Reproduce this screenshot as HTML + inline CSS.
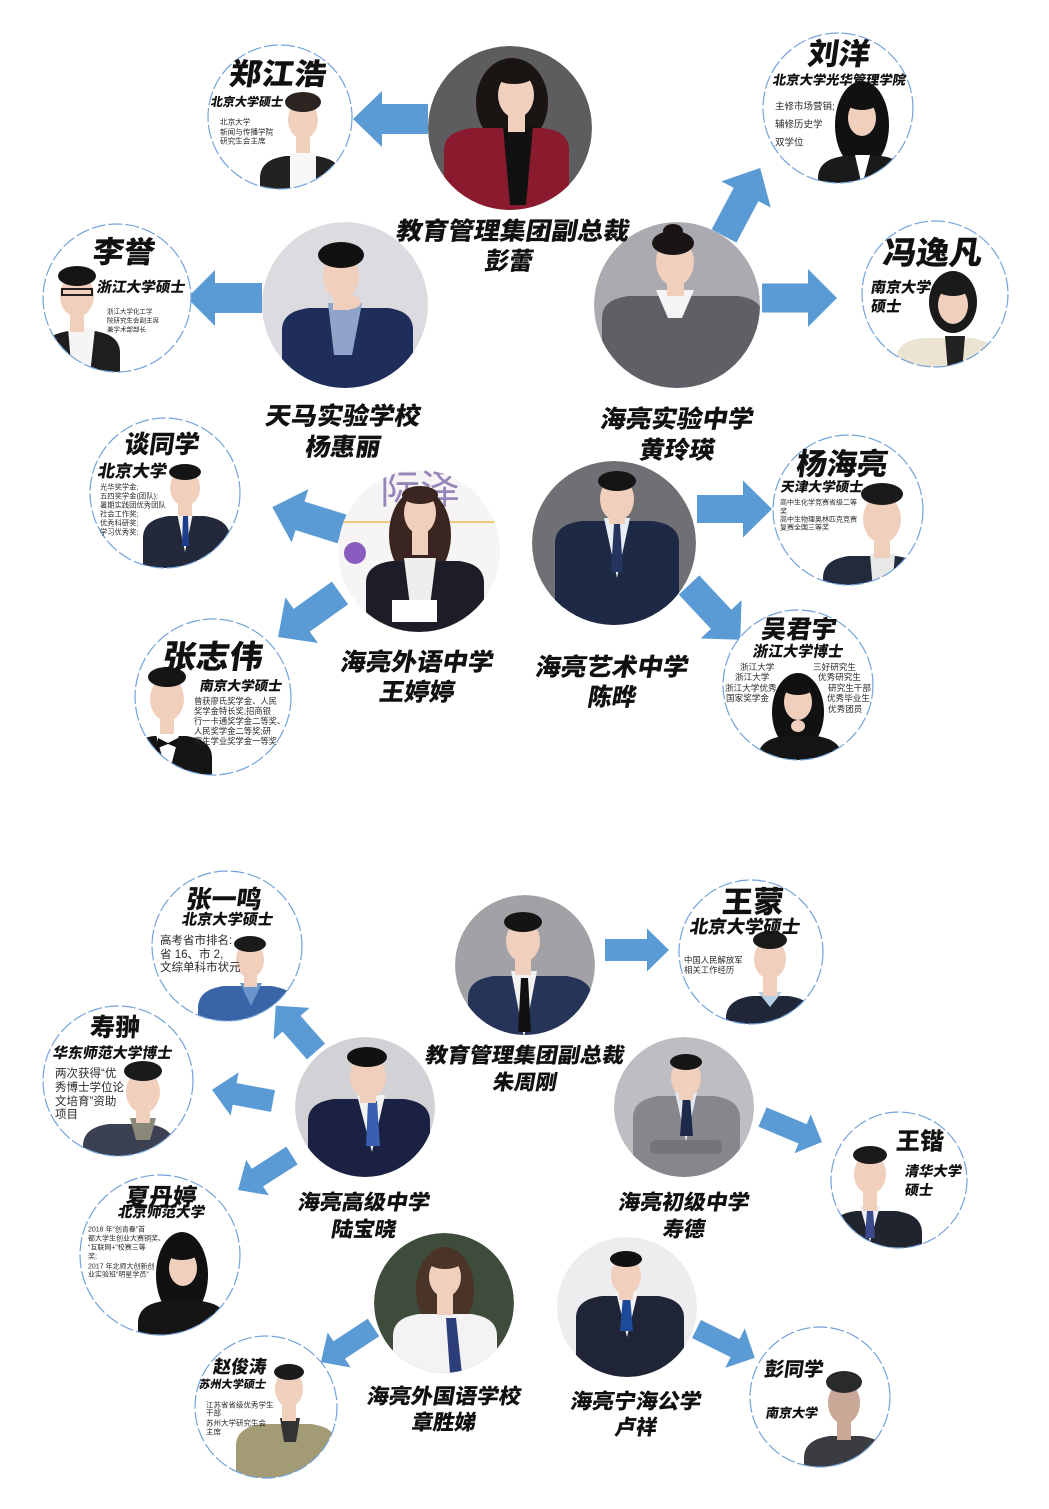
<!DOCTYPE html>
<html><head><meta charset="utf-8"><style>
html,body{margin:0;padding:0;background:#fff;}
svg{display:block;}
.n{font-family:"Liberation Sans","Noto Sans CJK SC",sans-serif;font-weight:900;fill:#111;}
.s{font-family:"Liberation Sans","Noto Sans CJK SC",sans-serif;font-weight:400;fill:#2a2a2a;}
.sk{fill:#f0cfbd;}
.bd{fill:none;stroke:#74a3da;stroke-width:1.2;stroke-dasharray:14 3;}
</style></head><body>
<svg width="1049" height="1509" viewBox="0 0 1049 1509" xmlns="http://www.w3.org/2000/svg">
<defs>
<clipPath id="cA"><circle cx="510" cy="128" r="82"/></clipPath>
<clipPath id="cB"><circle cx="345" cy="305" r="83"/></clipPath>
<clipPath id="cC"><circle cx="677" cy="305" r="83"/></clipPath>
<clipPath id="cD"><circle cx="419" cy="551" r="81"/></clipPath>
<clipPath id="cE"><circle cx="614" cy="543" r="82"/></clipPath>
<clipPath id="cF"><circle cx="525" cy="965" r="70"/></clipPath>
<clipPath id="cG"><circle cx="365" cy="1107" r="70"/></clipPath>
<clipPath id="cH"><circle cx="684" cy="1107" r="70"/></clipPath>
<clipPath id="cI"><circle cx="444" cy="1303" r="70"/></clipPath>
<clipPath id="cJ"><circle cx="627" cy="1307" r="70"/></clipPath>
<clipPath id="s1"><circle cx="280" cy="117" r="72"/></clipPath>
<clipPath id="s2"><circle cx="838" cy="108" r="75"/></clipPath>
<clipPath id="s3"><circle cx="935" cy="294" r="73"/></clipPath>
<clipPath id="s4"><circle cx="117" cy="298" r="74"/></clipPath>
<clipPath id="s5"><circle cx="165" cy="493" r="75"/></clipPath>
<clipPath id="s6"><circle cx="213" cy="697" r="78"/></clipPath>
<clipPath id="s7"><circle cx="848" cy="510" r="75"/></clipPath>
<clipPath id="s8"><circle cx="798" cy="685" r="75"/></clipPath>
<clipPath id="s9"><circle cx="227" cy="946" r="75"/></clipPath>
<clipPath id="s10"><circle cx="118" cy="1081" r="75"/></clipPath>
<clipPath id="s11"><circle cx="160" cy="1255" r="80"/></clipPath>
<clipPath id="s12"><circle cx="751" cy="952" r="72"/></clipPath>
<clipPath id="s13"><circle cx="899" cy="1180" r="68"/></clipPath>
<clipPath id="s14"><circle cx="266" cy="1407" r="71"/></clipPath>
<clipPath id="s15"><circle cx="820" cy="1397" r="70"/></clipPath>
</defs>

<!-- ARROWS -->
<g fill="#5b9bd5">
<polygon transform="translate(428,119) rotate(180)" points="0,-15 46,-15 46,-28 75,0 46,28 46,15 0,15"/>
<polygon transform="translate(262,298) rotate(180)" points="0,-15 47,-15 47,-28 75,0 47,28 47,15 0,15"/>
<polygon transform="translate(762,298)" points="0,-14.5 46,-14.5 46,-29 75,0 46,29 46,14.5 0,14.5"/>
<polygon transform="translate(724,236) rotate(-62)" points="0,-14 47,-14 47,-28 77,0 47,28 47,14 0,14"/>
<polygon transform="translate(342,529) rotate(197.4)" points="0,-15 44,-15 44,-28 73,0 44,28 44,15 0,15"/>
<polygon transform="translate(340,593) rotate(144.6)" points="0,-14 47,-14 47,-28 76,0 47,28 47,14 0,14"/>
<polygon transform="translate(697,509)" points="0,-14 46,-14 46,-28.5 75,0 46,28.5 46,14 0,14"/>
<polygon transform="translate(689,585) rotate(46.9)" points="0,-14 47,-14 47,-28 75,0 47,28 47,14 0,14"/>
<polygon transform="translate(605,950)" points="0,-11 42,-11 42,-21.5 64,0 42,21.5 42,11 0,11"/>
<polygon transform="translate(316,1051.5) rotate(228.7)" points="0,-12 37,-12 37,-24 61,0 37,24 37,12 0,12"/>
<polygon transform="translate(273,1101) rotate(190.4)" points="0,-11 39,-11 39,-22 62,0 39,22 39,11 0,11"/>
<polygon transform="translate(292,1155.5) rotate(147.4)" points="0,-10.5 41,-10.5 41,-21 64,0 41,21 41,10.5 0,10.5"/>
<polygon transform="translate(762.5,1117) rotate(22.8)" points="0,-10.5 43.5,-10.5 43.5,-21 64.5,0 43.5,21 43.5,10.5 0,10.5"/>
<polygon transform="translate(373.5,1327.5) rotate(146.7)" points="0,-10.5 41,-10.5 41,-21 63,0 41,21 41,10.5 0,10.5"/>
<polygon transform="translate(696.5,1329) rotate(26.4)" points="0,-10 43,-10 43,-22 65,0 43,22 43,10 0,10"/>
</g>

<!-- TEACHER PHOTOS -->
<g clip-path="url(#cA)">
<circle cx="510" cy="128" r="82" fill="#5d5d60"/>
<ellipse cx="512" cy="102" rx="36" ry="44" fill="#1a1512"/>
<path d="M444 215 L444 150 C444 136 456 130 472 128 L543 128 C559 130 569 136 569 150 L569 215 Z" fill="#8a1b2e"/>
<polygon points="503,126 533,126 526,205 510,205" fill="#111"/>
<rect x="508" y="108" width="17" height="24" class="sk"/>
<ellipse cx="516" cy="95" rx="18" ry="23" class="sk"/>
<ellipse cx="514" cy="75" rx="20" ry="9" fill="#1a1512"/>
</g>
<g clip-path="url(#cB)">
<circle cx="345" cy="305" r="83" fill="#dcdce0"/>
<path d="M282 392 L282 330 C282 316 293 310 309 308 L388 308 C403 310 413 316 413 330 L413 392 Z" fill="#1f2d5a"/>
<polygon points="328,303 362,303 352,355 334,355" fill="#8fa4c8"/>
<rect x="333" y="288" width="17" height="22" class="sk"/>
<ellipse cx="341" cy="276" rx="18" ry="24" class="sk"/>
<ellipse cx="341" cy="255" rx="23" ry="13" fill="#111"/>
<ellipse cx="350" cy="302" rx="11" ry="7" class="sk"/>
</g>
<g clip-path="url(#cC)">
<circle cx="677" cy="305" r="83" fill="#aaaab0"/>
<path d="M602 392 L602 318 C602 304 613 298 629 296 L738 296 C753 298 763 304 763 318 L763 392 Z" fill="#5f6065"/>
<polygon points="656,290 694,290 682,318 668,318" fill="#f4f4f4"/>
<rect x="667" y="276" width="17" height="20" class="sk"/>
<ellipse cx="675" cy="262" rx="19" ry="24" class="sk"/>
<ellipse cx="673" cy="243" rx="21" ry="12" fill="#1a1514"/>
<ellipse cx="673" cy="231" rx="10" ry="7" fill="#1a1514"/>
</g>
<g clip-path="url(#cD)">
<circle cx="419" cy="551" r="81" fill="#f6f4f4"/>
<text x="420" y="490" class="s" font-size="40" font-weight="700" text-anchor="middle" dominant-baseline="central" style="fill:#9486b8">际泽</text>
<rect x="340" y="521" width="160" height="2" fill="#f0c878"/>
<circle cx="355" cy="553" r="11" fill="#8a5cc0"/>
<ellipse cx="420" cy="535" rx="31" ry="46" fill="#3a2520"/>
<path d="M366 635 L366 583 C366 569 377 563 392 561 L459 561 C474 563 484 569 484 583 L484 635 Z" fill="#1d1d28"/>
<polygon points="404,558 436,558 428,622 412,622" fill="#eeeeee"/>
<rect x="412" y="530" width="16" height="25" class="sk"/>
<ellipse cx="420" cy="513" rx="16" ry="21" class="sk"/>
<ellipse cx="420" cy="495" rx="18" ry="9" fill="#3a2520"/>
<rect x="392" y="600" width="45" height="22" fill="#fff"/>
</g>
<g clip-path="url(#cE)">
<circle cx="614" cy="543" r="82" fill="#707074"/>
<path d="M555 628 L555 543 C555 529 566 523 582 521 L652 521 C668 523 679 529 679 543 L679 628 Z" fill="#1e2946"/>
<polygon points="604,518 630,518 617,578" fill="#e8eef5"/>
<polygon points="614,524 620,524 623,572 611,572" fill="#24345e"/>
<rect x="609" y="506" width="16" height="18" class="sk"/>
<ellipse cx="617" cy="499" rx="17" ry="22" class="sk"/>
<ellipse cx="617" cy="481" rx="19" ry="10" fill="#151515"/>
</g>
<g clip-path="url(#cF)">
<circle cx="525" cy="965" r="70" fill="#a2a2a6"/>
<path d="M468 1040 L468 998 C468 984 479 978 494 976 L566 976 C581 978 592 984 592 998 L592 1040 Z" fill="#263459"/>
<polygon points="511,971 537,971 524,1038" fill="#f2f2f2"/>
<polygon points="521,978 528,978 531,1032 518,1032" fill="#111"/>
<rect x="515" y="953" width="16" height="22" class="sk"/>
<ellipse cx="523" cy="941" rx="17" ry="21" class="sk"/>
<ellipse cx="523" cy="922" rx="19" ry="10" fill="#141414"/>
</g>
<g clip-path="url(#cG)">
<circle cx="365" cy="1107" r="70" fill="#d2d2d6"/>
<path d="M308 1180 L308 1121 C308 1107 319 1101 334 1099 L404 1099 C419 1101 430 1107 430 1121 L430 1180 Z" fill="#1b2142"/>
<polygon points="357,1095 385,1095 372,1152" fill="#f3f3f3"/>
<polygon points="368,1101 377,1101 380,1146 366,1146" fill="#3a5fb0"/>
<rect x="360" y="1083" width="16" height="20" class="sk"/>
<ellipse cx="368" cy="1077" rx="18" ry="22" class="sk"/>
<ellipse cx="367" cy="1057" rx="20" ry="10" fill="#111"/>
</g>
<g clip-path="url(#cH)">
<circle cx="684" cy="1107" r="70" fill="#bdbdc2"/>
<path d="M633 1180 L633 1118 C633 1104 644 1098 659 1096 L714 1096 C729 1098 740 1104 740 1118 L740 1180 Z" fill="#86868c"/>
<polygon points="675,1092 697,1092 686,1142" fill="#e4e8f0"/>
<polygon points="683,1096 690,1096 693,1136 680,1136" fill="#1e2a4a"/>
<rect x="679" y="1086" width="14" height="14" class="sk"/>
<ellipse cx="686" cy="1078" rx="15" ry="19" class="sk"/>
<ellipse cx="686" cy="1062" rx="16" ry="8" fill="#151515"/>
<rect x="650" y="1140" width="72" height="14" rx="6" fill="#74747a"/>
</g>
<g clip-path="url(#cI)">
<circle cx="444" cy="1303" r="70" fill="#3f4c3c"/>
<ellipse cx="445" cy="1290" rx="29" ry="43" fill="#4a3327"/>
<path d="M393 1380 L393 1336 C393 1322 404 1316 419 1314 L471 1314 C486 1316 497 1322 497 1336 L497 1380 Z" fill="#f3f3f3"/>
<polygon points="446,1318 456,1318 462,1374 450,1374" fill="#2c3e7a"/>
<rect x="437" y="1290" width="16" height="25" class="sk"/>
<ellipse cx="445" cy="1277" rx="16" ry="20" class="sk"/>
<ellipse cx="445" cy="1260" rx="18" ry="9" fill="#4a3327"/>
</g>
<g clip-path="url(#cJ)">
<circle cx="627" cy="1307" r="70" fill="#ededef"/>
<path d="M576 1380 L576 1318 C576 1304 587 1298 602 1296 L658 1296 C673 1298 684 1304 684 1318 L684 1380 Z" fill="#1f2537"/>
<polygon points="616,1292 638,1292 627,1337" fill="#f2f2f2"/>
<polygon points="623,1296 630,1296 633,1331 620,1331" fill="#1e4a9a"/>
<rect x="619" y="1286" width="14" height="14" class="sk"/>
<ellipse cx="626" cy="1276" rx="15" ry="19" class="sk"/>
<ellipse cx="626" cy="1259" rx="16" ry="8" fill="#111"/>
</g>

<!-- STUDENT CIRCLES -->
<g>
<circle cx="280" cy="117" r="72" fill="#fff"/>
<g clip-path="url(#s1)">
<path d="M260 195 L260 178 C260 164 271 158 286 156 L316 156 C331 158 342 164 342 178 L342 195 Z" fill="#222"/>
<polygon points="290,154 316,154 316,195 290,195" fill="#f7f7f7"/>
<rect x="296" y="133" width="14" height="20" class="sk"/>
<ellipse cx="303" cy="120" rx="15" ry="19" class="sk"/>
<ellipse cx="303" cy="102" rx="18" ry="10" fill="#2b2420"/>
</g>
<circle cx="280" cy="117" r="72" class="bd"/>

<circle cx="838" cy="108" r="75" fill="#fff"/>
<g clip-path="url(#s2)">
<ellipse cx="862" cy="125" rx="27" ry="44" fill="#111"/>
<path d="M818 190 L818 178 C818 164 829 158 844 156 L881 156 C896 158 907 164 907 178 L907 190 Z" fill="#1a1a1a"/>
<polygon points="855,155 870,155 862,186" fill="#fff"/>
<ellipse cx="862" cy="118" rx="14" ry="18" class="sk"/>
<ellipse cx="862" cy="102" rx="16" ry="8" fill="#111"/>
</g>
<circle cx="838" cy="108" r="75" class="bd"/>

<circle cx="935" cy="294" r="73" fill="#fff"/>
<g clip-path="url(#s3)">
<ellipse cx="953" cy="302" rx="24" ry="31" fill="#1a1a1a"/>
<path d="M896 372 L896 360 C896 346 907 340 922 338 L971 338 C986 340 997 346 997 360 L997 372 Z" fill="#ebe4d2"/>
<polygon points="945,336 965,336 962,372 948,372" fill="#222"/>
<ellipse cx="953" cy="305" rx="15" ry="19" class="sk"/>
<ellipse cx="953" cy="288" rx="17" ry="8" fill="#1a1a1a"/>
</g>
<circle cx="935" cy="294" r="73" class="bd"/>

<circle cx="117" cy="298" r="74" fill="#fff"/>
<g clip-path="url(#s4)">
<path d="M43 375 L43 353 C43 339 54 333 69 331 L94 331 C109 333 120 339 120 353 L120 375 Z" fill="#1e1e1e"/>
<polygon points="68,328 95,328 90,375 72,375" fill="#f5f5f5"/>
<rect x="70" y="310" width="14" height="22" class="sk"/>
<ellipse cx="77" cy="296" rx="17" ry="21" class="sk"/>
<ellipse cx="77" cy="276" rx="19" ry="10" fill="#151515"/>
<rect x="62" y="289" width="30" height="6" fill="none" stroke="#222" stroke-width="2"/>
</g>
<circle cx="117" cy="298" r="74" class="bd"/>

<circle cx="165" cy="493" r="75" fill="#fff"/>
<g clip-path="url(#s5)">
<path d="M143 570 L143 538 C143 524 154 518 169 516 L204 516 C219 518 230 524 230 538 L230 570 Z" fill="#23283a"/>
<polygon points="177,513 193,513 185,552" fill="#f2f2f2"/>
<polygon points="183,516 188,516 189,546 182,546" fill="#1d3e8a"/>
<rect x="178" y="500" width="14" height="16" class="sk"/>
<ellipse cx="185" cy="488" rx="15" ry="18" class="sk"/>
<ellipse cx="185" cy="472" rx="16" ry="8" fill="#151515"/>
</g>
<circle cx="165" cy="493" r="75" class="bd"/>

<circle cx="213" cy="697" r="78" fill="#fff"/>
<g clip-path="url(#s6)">
<path d="M128 778 L128 758 C128 744 139 738 154 736 L186 736 C201 738 212 744 212 758 L212 778 Z" fill="#151515"/>
<polygon points="155,731 180,731 168,778" fill="#fff"/>
<polygon points="158,738 168,743 178,738 178,748 168,744 158,748" fill="#111"/>
<rect x="160" y="712" width="14" height="22" class="sk"/>
<ellipse cx="167" cy="699" rx="17" ry="22" class="sk"/>
<ellipse cx="167" cy="677" rx="19" ry="10" fill="#151515"/>
</g>
<circle cx="213" cy="697" r="78" class="bd"/>

<circle cx="848" cy="510" r="75" fill="#fff"/>
<g clip-path="url(#s7)">
<path d="M823 590 L823 578 C823 564 834 558 849 556 L896 556 C911 558 922 564 922 578 L922 590 Z" fill="#232a3c"/>
<polygon points="870,554 895,554 892,590 873,590" fill="#e8e8e8"/>
<rect x="874" y="538" width="16" height="20" class="sk"/>
<ellipse cx="882" cy="519" rx="19" ry="24" class="sk"/>
<ellipse cx="882" cy="494" rx="21" ry="11" fill="#1a1a1a"/>
</g>
<circle cx="848" cy="510" r="75" class="bd"/>

<circle cx="798" cy="685" r="75" fill="#fff"/>
<g clip-path="url(#s8)">
<ellipse cx="798" cy="712" rx="26" ry="39" fill="#111"/>
<path d="M758 765 L758 758 C758 744 769 738 784 736 L816 736 C831 738 842 744 842 758 L842 765 Z" fill="#151515"/>
<ellipse cx="798" cy="702" rx="14" ry="18" class="sk"/>
<ellipse cx="798" cy="726" rx="7" ry="6" class="sk"/>
<ellipse cx="798" cy="687" rx="16" ry="8" fill="#111"/>
</g>
<circle cx="798" cy="685" r="75" class="bd"/>

<circle cx="227" cy="946" r="75" fill="#fff"/>
<g clip-path="url(#s9)">
<path d="M198 1025 L198 1008 C198 994 209 988 224 986 L271 986 C286 988 297 994 297 1008 L297 1025 Z" fill="#3965a8"/>
<polygon points="240,983 262,983 251,1006" fill="#6a95cc"/>
<rect x="244" y="972" width="13" height="15" class="sk"/>
<ellipse cx="250" cy="960" rx="14" ry="18" class="sk"/>
<ellipse cx="250" cy="944" rx="16" ry="8" fill="#1a1a1a"/>
</g>
<circle cx="227" cy="946" r="75" class="bd"/>

<circle cx="118" cy="1081" r="75" fill="#fff"/>
<g clip-path="url(#s10)">
<path d="M83 1160 L83 1146 C83 1132 94 1126 109 1124 L148 1124 C163 1126 174 1132 174 1146 L174 1160 Z" fill="#3b4152"/>
<polygon points="130,1118 156,1118 150,1140 136,1140" fill="#8a8878"/>
<rect x="136" y="1106" width="14" height="17" class="sk"/>
<ellipse cx="143" cy="1092" rx="17" ry="21" class="sk"/>
<ellipse cx="143" cy="1071" rx="19" ry="10" fill="#1a1a1a"/>
</g>
<circle cx="118" cy="1081" r="75" class="bd"/>

<circle cx="160" cy="1255" r="80" fill="#fff"/>
<g clip-path="url(#s11)">
<ellipse cx="182" cy="1275" rx="26" ry="43" fill="#111"/>
<path d="M138 1340 L138 1323 C138 1309 149 1303 164 1301 L201 1301 C216 1303 227 1309 227 1323 L227 1340 Z" fill="#151515"/>
<ellipse cx="183" cy="1268" rx="14" ry="18" class="sk"/>
<ellipse cx="182" cy="1252" rx="17" ry="8" fill="#111"/>
</g>
<circle cx="160" cy="1255" r="80" class="bd"/>

<circle cx="751" cy="952" r="72" fill="#fff"/>
<g clip-path="url(#s12)">
<path d="M726 1030 L726 1018 C726 1004 737 998 752 996 L788 996 C803 998 814 1004 814 1018 L814 1030 Z" fill="#1f2738"/>
<polygon points="758,992 782,992 770,1007" fill="#b8cfe8"/>
<rect x="763" y="976" width="14" height="20" class="sk"/>
<ellipse cx="770" cy="959" rx="16" ry="20" class="sk"/>
<ellipse cx="770" cy="940" rx="17" ry="9" fill="#1a1a1a"/>
</g>
<circle cx="751" cy="952" r="72" class="bd"/>

<circle cx="899" cy="1180" r="68" fill="#fff"/>
<g clip-path="url(#s13)">
<path d="M830 1252 L830 1233 C830 1219 841 1213 856 1211 L896 1211 C911 1213 922 1219 922 1233 L922 1252 Z" fill="#20242f"/>
<polygon points="860,1206 880,1206 870,1242" fill="#eeeef6"/>
<polygon points="867,1210 873,1210 875,1238 865,1238" fill="#3a4a8a"/>
<rect x="863" y="1191" width="14" height="20" class="sk"/>
<ellipse cx="870" cy="1174" rx="16" ry="20" class="sk"/>
<ellipse cx="870" cy="1155" rx="17" ry="9" fill="#1a1a1a"/>
</g>
<circle cx="899" cy="1180" r="68" class="bd"/>

<circle cx="266" cy="1407" r="71" fill="#fff"/>
<g clip-path="url(#s14)">
<path d="M236 1482 L236 1446 C236 1432 247 1426 262 1424 L311 1424 C326 1426 337 1432 337 1446 L337 1482 Z" fill="#a39b74"/>
<polygon points="280,1418 300,1418 296,1442 284,1442" fill="#333"/>
<rect x="282" y="1403" width="14" height="18" class="sk"/>
<ellipse cx="289" cy="1389" rx="14" ry="18" class="sk"/>
<ellipse cx="289" cy="1372" rx="15" ry="8" fill="#1a1a1a"/>
</g>
<circle cx="266" cy="1407" r="71" class="bd"/>

<circle cx="820" cy="1397" r="70" fill="#fff"/>
<g clip-path="url(#s15)">
<path d="M804 1470 L804 1458 C804 1444 815 1438 830 1436 L861 1436 C876 1438 887 1444 887 1458 L887 1470 Z" fill="#3b3c42"/>
<rect x="837" y="1418" width="14" height="22" fill="#c9a898"/>
<ellipse cx="844" cy="1403" rx="16" ry="21" fill="#c9a898"/>
<ellipse cx="844" cy="1382" rx="18" ry="11" fill="#2a2a2a"/>
</g>
<circle cx="820" cy="1397" r="70" class="bd"/>
</g>

<!-- TEACHER LABELS -->
<g class="n" text-anchor="middle" dominant-baseline="central">
<g transform="translate(513,232) skewX(-10)"><text font-size="24.5" textLength="233" lengthAdjust="spacingAndGlyphs">教育管理集团副总裁</text></g>
<g transform="translate(509,262) skewX(-10)"><text font-size="24.5" textLength="48" lengthAdjust="spacingAndGlyphs">彭蕾</text></g>
<g transform="translate(343,417) skewX(-10)"><text font-size="24.5" textLength="155" lengthAdjust="spacingAndGlyphs">天马实验学校</text></g>
<g transform="translate(343,448) skewX(-10)"><text font-size="24.5" textLength="75" lengthAdjust="spacingAndGlyphs">杨惠丽</text></g>
<g transform="translate(677,420) skewX(-10)"><text font-size="24.5" textLength="153" lengthAdjust="spacingAndGlyphs">海亮实验中学</text></g>
<g transform="translate(677,451) skewX(-10)"><text font-size="24.5" textLength="75" lengthAdjust="spacingAndGlyphs">黄玲瑛</text></g>
<g transform="translate(417,663) skewX(-10)"><text font-size="24.5" textLength="153" lengthAdjust="spacingAndGlyphs">海亮外语中学</text></g>
<g transform="translate(417,693) skewX(-10)"><text font-size="24.5" textLength="75" lengthAdjust="spacingAndGlyphs">王婷婷</text></g>
<g transform="translate(612,668) skewX(-10)"><text font-size="24.5" textLength="153" lengthAdjust="spacingAndGlyphs">海亮艺术中学</text></g>
<g transform="translate(612,698) skewX(-10)"><text font-size="24.5" textLength="48" lengthAdjust="spacingAndGlyphs">陈晔</text></g>
<g transform="translate(525,1056) skewX(-10)"><text font-size="21" textLength="199" lengthAdjust="spacingAndGlyphs">教育管理集团副总裁</text></g>
<g transform="translate(525,1083) skewX(-10)"><text font-size="21" textLength="64" lengthAdjust="spacingAndGlyphs">朱周刚</text></g>
<g transform="translate(364,1203) skewX(-10)"><text font-size="21" textLength="132" lengthAdjust="spacingAndGlyphs">海亮高级中学</text></g>
<g transform="translate(364,1230) skewX(-10)"><text font-size="21" textLength="65" lengthAdjust="spacingAndGlyphs">陆宝晓</text></g>
<g transform="translate(684,1203) skewX(-10)"><text font-size="21" textLength="131" lengthAdjust="spacingAndGlyphs">海亮初级中学</text></g>
<g transform="translate(684,1230) skewX(-10)"><text font-size="21" textLength="42" lengthAdjust="spacingAndGlyphs">寿德</text></g>
<g transform="translate(444,1397) skewX(-10)"><text font-size="21" textLength="154" lengthAdjust="spacingAndGlyphs">海亮外国语学校</text></g>
<g transform="translate(444,1423) skewX(-10)"><text font-size="21" textLength="64" lengthAdjust="spacingAndGlyphs">章胜娣</text></g>
<g transform="translate(636,1402) skewX(-10)"><text font-size="21" textLength="131" lengthAdjust="spacingAndGlyphs">海亮宁海公学</text></g>
<g transform="translate(636,1428) skewX(-10)"><text font-size="21" textLength="42" lengthAdjust="spacingAndGlyphs">卢祥</text></g>
</g>

<!-- STUDENT NAMES -->
<g class="n" text-anchor="middle" dominant-baseline="central">
<g transform="translate(278,75) skewX(-8)"><text font-size="30" textLength="97" lengthAdjust="spacingAndGlyphs">郑江浩</text></g>
<g transform="translate(839,55) skewX(-8)"><text font-size="30" textLength="62" lengthAdjust="spacingAndGlyphs">刘洋</text></g>
<g transform="translate(933,253) skewX(-8)"><text font-size="32" textLength="99" lengthAdjust="spacingAndGlyphs">冯逸凡</text></g>
<g transform="translate(124,253) skewX(-8)"><text font-size="30" textLength="62" lengthAdjust="spacingAndGlyphs">李誉</text></g>
<g transform="translate(162,445) skewX(-8)"><text font-size="25" textLength="75" lengthAdjust="spacingAndGlyphs">谈同学</text></g>
<g transform="translate(213,657) skewX(-8)"><text font-size="32" textLength="100" lengthAdjust="spacingAndGlyphs">张志伟</text></g>
<g transform="translate(842,465) skewX(-8)"><text font-size="30" textLength="91" lengthAdjust="spacingAndGlyphs">杨海亮</text></g>
<g transform="translate(799,630) skewX(-8)"><text font-size="25" textLength="75" lengthAdjust="spacingAndGlyphs">吴君宇</text></g>
<g transform="translate(224,900) skewX(-8)"><text font-size="25" textLength="75" lengthAdjust="spacingAndGlyphs">张一鸣</text></g>
<g transform="translate(115,1028) skewX(-4)"><text font-size="25" textLength="50" lengthAdjust="spacingAndGlyphs">寿翀</text></g>
<g transform="translate(161,1198) skewX(-8)"><text font-size="24" textLength="71" lengthAdjust="spacingAndGlyphs">夏丹婷</text></g>
<g transform="translate(753,903) skewX(-4)"><text font-size="30" textLength="62" lengthAdjust="spacingAndGlyphs">王蒙</text></g>
<g transform="translate(920,1142) skewX(-4)"><text font-size="24" textLength="48" lengthAdjust="spacingAndGlyphs">王锴</text></g>
<g transform="translate(240,1367) skewX(-8)"><text font-size="18" textLength="53" lengthAdjust="spacingAndGlyphs">赵俊涛</text></g>
<g transform="translate(794,1370) skewX(-8)"><text font-size="19.5" textLength="59" lengthAdjust="spacingAndGlyphs">彭同学</text></g>
</g>

<!-- STUDENT SCHOOLS -->
<g class="n" dominant-baseline="central">
<g transform="translate(211,102) skewX(-10)"><text font-size="12" textLength="72" lengthAdjust="spacingAndGlyphs">北京大学硕士</text></g>
<g transform="translate(773,80) skewX(-10)"><text font-size="13" textLength="133" lengthAdjust="spacingAndGlyphs">北京大学光华管理学院</text></g>
<g transform="translate(871,288) skewX(-10)"><text font-size="15" textLength="60" lengthAdjust="spacingAndGlyphs">南京大学</text></g>
<g transform="translate(871,307) skewX(-10)"><text font-size="15" textLength="30" lengthAdjust="spacingAndGlyphs">硕士</text></g>
<g transform="translate(97,288) skewX(-10)"><text font-size="14.5" textLength="88" lengthAdjust="spacingAndGlyphs">浙江大学硕士</text></g>
<g transform="translate(98,471) skewX(-10)"><text font-size="17" textLength="69" lengthAdjust="spacingAndGlyphs">北京大学</text></g>
<g transform="translate(200,686) skewX(-10)"><text font-size="13.5" textLength="82" lengthAdjust="spacingAndGlyphs">南京大学硕士</text></g>
<g transform="translate(781,487) skewX(-10)"><text font-size="13.5" textLength="82" lengthAdjust="spacingAndGlyphs">天津大学硕士</text></g>
<g transform="translate(753,652) skewX(-10)"><text font-size="15" textLength="90" lengthAdjust="spacingAndGlyphs">浙江大学博士</text></g>
<g transform="translate(182,920) skewX(-10)"><text font-size="15" textLength="91" lengthAdjust="spacingAndGlyphs">北京大学硕士</text></g>
<g transform="translate(53,1054) skewX(-10)"><text font-size="14.8" textLength="119" lengthAdjust="spacingAndGlyphs">华东师范大学博士</text></g>
<g transform="translate(118,1213) skewX(-10)"><text font-size="14.5" textLength="87" lengthAdjust="spacingAndGlyphs">北京师范大学</text></g>
<g transform="translate(690,927) skewX(-10)"><text font-size="18" textLength="110" lengthAdjust="spacingAndGlyphs">北京大学硕士</text></g>
<g transform="translate(905,1171) skewX(-10)"><text font-size="14" textLength="57" lengthAdjust="spacingAndGlyphs">清华大学</text></g>
<g transform="translate(905,1190) skewX(-10)"><text font-size="14" textLength="28" lengthAdjust="spacingAndGlyphs">硕士</text></g>
<g transform="translate(199,1385) skewX(-10)"><text font-size="11" textLength="67" lengthAdjust="spacingAndGlyphs">苏州大学硕士</text></g>
<g transform="translate(766,1413) skewX(-10)"><text font-size="13" textLength="52" lengthAdjust="spacingAndGlyphs">南京大学</text></g>
</g>

<!-- SMALL DETAILS -->
<g class="s" dominant-baseline="central">
<g font-size="7.6">
<text x="220" y="122">北京大学</text>
<text x="220" y="132">新闻与传播学院</text>
<text x="220" y="141">研究生会主席</text>
</g>
<g font-size="9.5">
<text x="775" y="107">主修市场营销;</text>
<text x="775" y="125">辅修历史学</text>
<text x="775" y="143">双学位</text>
</g>
<g font-size="6.5">
<text x="107" y="312">浙江大学化工学</text>
<text x="107" y="321">院研究生会副主席</text>
<text x="107" y="330">兼学术部部长</text>
</g>
<g font-size="7.3">
<text x="100" y="487">光华奖学金;</text>
<text x="100" y="496">五四奖学金(团队);</text>
<text x="100" y="505">暑期实践团优秀团队</text>
<text x="100" y="514">社会工作奖;</text>
<text x="100" y="523">优秀科研奖;</text>
<text x="100" y="532">学习优秀奖;</text>
</g>
<g font-size="8.3">
<text x="194" y="701">曾获廖氏奖学金、人民</text>
<text x="194" y="711">奖学金特长奖;招商银</text>
<text x="194" y="721">行一卡通奖学金二等奖、</text>
<text x="194" y="731">人民奖学金二等奖;研</text>
<text x="194" y="741">究生学业奖学金一等奖</text>
</g>
<g font-size="7">
<text x="780" y="503">高中生化学竞赛省级二等</text>
<text x="780" y="512">奖</text>
<text x="780" y="520">高中生物理奥林匹克竞赛</text>
<text x="780" y="528">复赛全国三等奖</text>
</g>
<g font-size="8.6">
<text x="740" y="667">浙江大学</text>
<text x="735" y="677">浙江大学</text>
<text x="725" y="688">浙江大学优秀</text>
<text x="726" y="698">国家奖学金</text>
<text x="813" y="667">三好研究生</text>
<text x="818" y="677">优秀研究生</text>
<text x="828" y="688">研究生干部</text>
<text x="827" y="698">优秀毕业生</text>
<text x="828" y="709">优秀团员</text>
</g>
<g font-size="11.5">
<text x="160" y="941">高考省市排名:</text>
<text x="160" y="955">省 16、市 2,</text>
<text x="160" y="968">文综单科市状元</text>
</g>
<g font-size="11.5">
<text x="55" y="1074">两次获得“优</text>
<text x="55" y="1088">秀博士学位论</text>
<text x="55" y="1102">文培育”资助</text>
<text x="55" y="1115">项目</text>
</g>
<g font-size="7">
<text x="88" y="1230">2018 年“创青春”首</text>
<text x="88" y="1239">都大学生创业大赛铜奖、</text>
<text x="88" y="1248">“互联网+”校赛三等</text>
<text x="88" y="1257">奖;</text>
<text x="88" y="1267">2017 年北师大创新创</text>
<text x="88" y="1275">业实验班“明星学员”</text>
</g>
<g font-size="8.4">
<text x="684" y="960">中国人民解放军</text>
<text x="684" y="970">相关工作经历</text>
</g>
<g font-size="7.5">
<text x="206" y="1405">江苏省省级优秀学生</text>
<text x="206" y="1413">干部</text>
<text x="206" y="1423">苏州大学研究生会</text>
<text x="206" y="1432">主席</text>
</g>
</g>
</svg>
</body></html>
